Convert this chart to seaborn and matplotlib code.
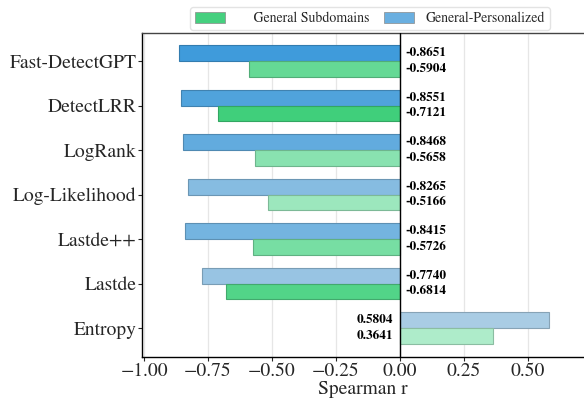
"""Spearman correlation of detector scores, general vs. personalized."""

import matplotlib

matplotlib.use("Agg")
import matplotlib.pyplot as plt
from matplotlib.patches import Patch
import pandas as pd
import seaborn as sns


DETECTORS = [
    "Fast-DetectGPT",
    "DetectLRR",
    "LogRank",
    "Log-Likelihood",
    "Lastde++",
    "Lastde",
    "Entropy",
]
SUBDOMAINS = [-0.5904, -0.7121, -0.5658, -0.5166, -0.5726, -0.6814, 0.3641]
PERSONALIZED = [-0.8651, -0.8551, -0.8468, -0.8265, -0.8415, -0.7740, 0.5804]

GREEN_DARK, GREEN_LIGHT = "#40cf7b", "#aeecca"
BLUE_DARK, BLUE_LIGHT = "#3f9bdb", "#a9cce4"


def rank_colors(values, dark, light):
    """Darker fill for stronger correlations, lighter for weaker ones."""
    shades = sns.blend_palette([dark, light], len(values))
    order = sorted(range(len(values)), key=lambda i: -abs(values[i]))
    colors = [None] * len(values)
    for rank, idx in enumerate(order):
        colors[idx] = shades[rank]
    return colors


def main():
    sns.set_theme(style="white")
    plt.rcParams["font.family"] = ["STIXGeneral", "Liberation Serif", "DejaVu Serif"]
    plt.rcParams["mathtext.fontset"] = "stix"

    df = pd.DataFrame(
        {
            "detector": DETECTORS * 2,
            "r": PERSONALIZED + SUBDOMAINS,
            "set": ["General-Personalized"] * len(DETECTORS)
            + ["General Subdomains"] * len(DETECTORS),
        }
    )

    fig = plt.figure(figsize=(5.84, 3.99), dpi=100)
    ax = fig.add_axes([0.2432, 0.1053, 0.7568, 0.812])
    sns.barplot(
        data=df,
        x="r",
        y="detector",
        hue="set",
        hue_order=["General-Personalized", "General Subdomains"],
        order=DETECTORS,
        orient="h",
        width=0.7,
        errorbar=None,
        legend=False,
        ax=ax,
    )

    fills = [
        rank_colors(PERSONALIZED, BLUE_DARK, BLUE_LIGHT),
        rank_colors(SUBDOMAINS, GREEN_DARK, GREEN_LIGHT),
    ]
    values = [PERSONALIZED, SUBDOMAINS]
    for container, colors, vals in zip(ax.containers, fills, values):
        for bar, color, v in zip(container, colors, vals):
            bar.set_facecolor(color)
            edge = tuple(c * 0.8 for c in color[:3])
            bar.set_edgecolor(edge)
            bar.set_linewidth(0.8)
            y = bar.get_y() + bar.get_height() / 2
            if v < 0:
                ax.text(0.02, y, f"{v:.4f}", ha="left", va="center",
                        fontsize=9.5, fontweight="bold", color="black")
            else:
                ax.text(-0.027, y, f"{v:.4f}", ha="right", va="center",
                        fontsize=9.5, fontweight="bold", color="black")

    ax.axvline(0, color="black", linewidth=1.0, zorder=3)
    ax.set_xlim(-1.008, 0.719)
    ax.set_ylim(6.65, -0.63)
    ax.set_xticks([-1.0, -0.75, -0.5, -0.25, 0.0, 0.25, 0.5])
    ax.xaxis.grid(True, color="#e6e6e6", linewidth=0.9)
    ax.set_axisbelow(True)
    ax.set_xlabel("Spearman r", fontsize=14, labelpad=1)
    ax.set_ylabel("")
    ax.tick_params(axis="x", labelsize=14, length=3, width=0.8, pad=1, bottom=True)
    ax.tick_params(axis="y", labelsize=14, length=3, width=0.8, pad=1, left=True)

    for side in ["left", "bottom"]:
        ax.spines[side].set_color("black")
        ax.spines[side].set_linewidth(1.0)
    ax.spines["top"].set_color("#444444")
    ax.spines["top"].set_linewidth(1.0)
    ax.spines["right"].set_visible(False)

    handles = [
        Patch(facecolor="#45d07f", edgecolor="#8a8a8a", linewidth=0.5),
        Patch(facecolor="#6aafe0", edgecolor="#8a8a8a", linewidth=0.5),
    ]
    fig.legend(
        handles,
        ["     General Subdomains", "General-Personalized"],
        loc="upper center",
        bbox_to_anchor=(0.633, 1.0),
        ncol=2,
        fontsize=10,
        frameon=True,
        edgecolor="#dddddd",
        handlelength=2.2,
        handleheight=0.9,
        columnspacing=1.0,
        borderpad=0.35,
    )

    fig.savefig("out.png", dpi=100)
    plt.close(fig)


if __name__ == "__main__":
    main()
